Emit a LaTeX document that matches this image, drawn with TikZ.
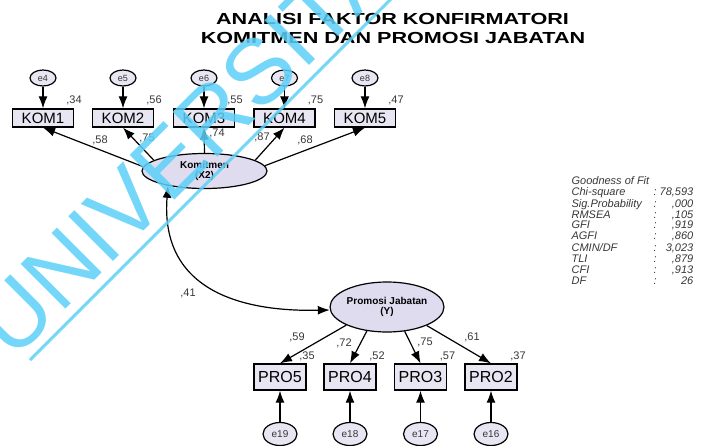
\documentclass[tikz,border=0pt]{standalone}
\usepackage{fontspec}
\setmainfont{Liberation Sans}
\usepackage{graphicx}
\usetikzlibrary{positioning}
\usetikzlibrary{shapes.geometric}
\usetikzlibrary{arrows.meta}
\definecolor{boxfill}{RGB}{232,230,242}
\definecolor{latentfill}{RGB}{224,220,240}
\definecolor{wmcyan}{RGB}{92,208,248}
\definecolor{numgray}{RGB}{55,55,55}
\tikzset{
  title/.style={anchor=base,inner sep=0pt,font=\bfseries\fontsize{16}{16}\selectfont},
  obs/.style={draw,line width=1.3pt,fill=boxfill,inner sep=0pt,minimum width=61pt,minimum height=18pt,font=\fontsize{15}{15}\selectfont},
  obsb/.style={obs,minimum width=52pt,minimum height=26pt,font=\fontsize{16}{16}\selectfont},
  err/.style={ellipse,draw,line width=1.2pt,fill=boxfill,inner sep=0pt,minimum width=26pt,minimum height=16pt,text=numgray,font=\fontsize{9}{9}\selectfont},
  errb/.style={err,minimum width=34pt,minimum height=23pt,font=\fontsize{10}{10}\selectfont},
  latent/.style={ellipse,draw,line width=1.2pt,fill=latentfill,inner sep=0pt,align=center,font=\bfseries\fontsize{10}{10.5}\selectfont},
  num/.style={inner sep=0pt,text=numgray,font=\fontsize{11}{11}\selectfont},
  gof/.style={anchor=north west,inner sep=0pt,text=numgray,font=\itshape\fontsize{11}{10.9}\selectfont},
  wmark/.style={anchor=base west,rotate=45,inner sep=0pt,text=wmcyan,opacity=0.85,font=\fontsize{92}{92}\selectfont}
}

\begin{document}
\begin{tikzpicture}[x=1pt,y=-1pt,line width=1.2pt,>={Latex[length=12pt,width=9pt]}]
\useasboundingbox (0,0) rectangle (721,445);
\clip (0,0) rectangle (721,445);
\node[title] (head1) at (392.5,24) {\scalebox{1.35}[1]{ANALISI FAKTOR KONFIRMATORI}};
\node[title] (head2) at (393,43) {\scalebox{1.35}[1]{KOMITMEN DAN PROMOSI JABATAN}};

\node[latent,minimum width=125pt,minimum height=35pt] (komitmen) at (204.5,171) {Komitmen\\(X2)};
\node[latent,minimum width=108pt,minimum height=50pt] (promosi) at (387,307) {Promosi Jabatan\\(Y)};

\foreach \i/\x/\e/\r in {1/43/4/34,2/123/5/56,3/204/6/55,4/284.5/7/75,5/365/8/47} {
\node[obs] (kom\i) at (\x,118) {KOM\i};
\node[err] (e\e) at (\x,78) {e\e};
\draw[->] (e\e) -- (kom\i);
\node[num] (rk\i) at (\x+31,100) {,\r};
}
\foreach \i/\a/\l/\lx/\ly in {1/176/58/100/140,2/168/75/147/138,3/90/74/217/133,4/12/87/262/137,5/5/68/305/140} {
\draw[->] (komitmen.\a) -- (kom\i.south);
\node[num] (lk\i) at (\lx,\ly) {,\l};
}

\foreach \p/\x/\e/\r in {5/280/19/35,4/350/18/52,3/420.5/17/57,2/491/16/37} {
\node[obsb] (pro\p) at (\x,377) {PRO\p};
\node[errb] (e\e) at (\x,434) {e\e};
\draw[->] (e\e) -- (pro\p);
\node[num] (rp\p) at (\x+27,356) {,\r};
}
\foreach \p/\a/\l/\lx/\ly in {5/204/59/297/337,4/230/72/344/343,3/306/75/425/342,2/335/61/472/337} {
\draw[->] (promosi.\a) -- (pro\p.north);
\node[num] (lp\p) at (\lx,\ly) {,\l};
}

\draw[<->] (komitmen.202) .. controls +(-8,102) and +(-93,2) .. (promosi.183);
\node[num] (cov) at (188,293) {,41};

\node[gof] (fit) at (571,176) {%
\begin{tabular}{@{}p{82pt}@{}l@{\hspace{3pt}}r@{}}
Goodness of Fit && \\
Chi-square & : & 78,593\\
Sig.Probability & : & ,000\\
RMSEA & : & ,105\\
GFI & : & ,919\\
AGFI & : & ,860\\
CMIN/DF & : & 3,023\\
TLI & : & ,879\\
CFI & : & ,913\\
DF & : & 26
\end{tabular}};

\node[wmark] (wm) at (13.5,361.5) {UNIVERSITAS};
\draw[wmcyan,opacity=0.85,line width=3pt] (30,360) -- (400,-10);
\end{tikzpicture}
\end{document}
